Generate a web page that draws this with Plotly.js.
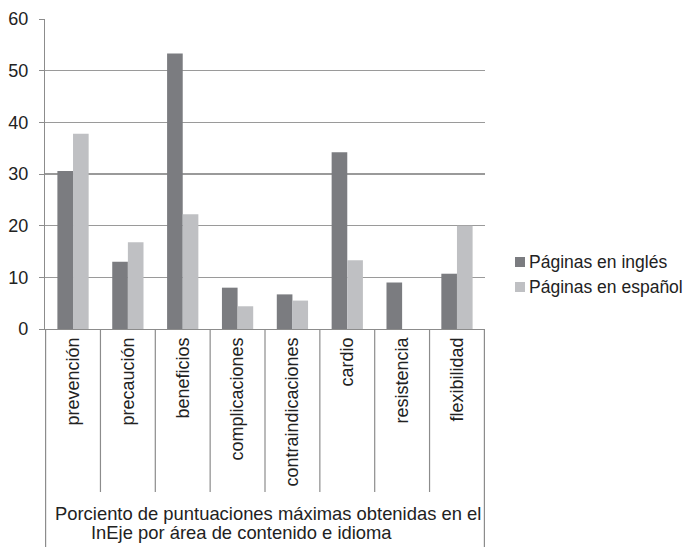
<!DOCTYPE html>
<html>
<head>
<meta charset="utf-8">
<script src="https://cdn.plot.ly/plotly-3.0.1.min.js"></script>
<style>html,body{margin:0;padding:0;background:#fff;}#chart{width:685px;height:547px;}</style>
</head>
<body>
<div id="chart"></div>
<script>
const categories = ["prevención","precaución","beneficios","complicaciones","contraindicaciones","cardio","resistencia","flexibilidad"];
const ingles = [30.6, 13.0, 53.3, 8.0, 6.7, 34.2, 9.0, 10.7];
const espanol = [37.8, 16.8, 22.2, 4.4, 5.5, 13.3, 0, 20.0];
const seriesNames = ["Páginas en inglés", "Páginas en español"];
const seriesColors = ["#7b7c80", "#bfc0c3"];
const titleLines = ["Porciento de puntuaciones máximas obtenidas en el", "InEje por área de contenido e idioma"];
const yTicks = [0, 10, 20, 30, 40, 50, 60];

const FONT = "Liberation Sans, Arial, sans-serif";
const L = 45, R = 200, T = 19, B = 218;
const plotW = 685 - L - R, plotH = 547 - T - B;
const px = v => (v - L) / plotW;          // page x -> paper
const py = v => (547 - B - v) / plotH;    // page y -> paper

const traces = [
  {type:'bar', name: seriesNames[0], x: categories, y: ingles, marker:{color: seriesColors[0]}, showlegend:false},
  {type:'bar', name: seriesNames[1], x: categories, y: espanol, marker:{color: seriesColors[1]}, showlegend:false}
];

const shapes = [];
for (let i = 0; i <= categories.length; i++) {
  const outer = (i === 0 || i === categories.length);
  shapes.push({type:'line', xref:'x', yref:'paper', x0: i - 0.5, x1: i - 0.5, y0: 0,
    y1: outer ? py(547) : py(492), line:{color:'#8c8c8c', width:1.2}});
}
const annotations = [
  {xref:'paper', yref:'paper', x: px(53), y: py(513), xanchor:'left', yanchor:'middle', showarrow:false,
   text: titleLines[0], font:{size:18.4, color:'#222'}},
  {xref:'paper', yref:'paper', x: px(89), y: py(532), xanchor:'left', yanchor:'middle', showarrow:false,
   text: titleLines[1], font:{size:18.4, color:'#222'}}
];
// legend (drawn as shapes + text)
const legendRows = [262, 287];
seriesNames.forEach((name, k) => {
  const cy = legendRows[k];
  shapes.push({type:'rect', xref:'paper', yref:'paper', x0: px(515), x1: px(525), y0: py(cy + 5), y1: py(cy - 5),
    fillcolor: seriesColors[k], line:{width:0}});
  annotations.push({xref:'paper', yref:'paper', x: px(527), y: py(cy), xanchor:'left', yanchor:'middle',
    showarrow:false, text: name, font:{size:17.5, color:'#222'}});
});

const layout = {
  width: 685, height: 547,
  margin: {l:L, r:R, t:T, b:B, autoexpand:false},
  paper_bgcolor:'#fff', plot_bgcolor:'#fff',
  font: {family: FONT, color:'#222', size: 18},
  barmode:'group', bargap: 0.43, bargroupgap: 0,
  showlegend: false,
  xaxis: {type:'category', tickangle:-90, showline:true, linecolor:'#8c8c8c', linewidth:1.2,
    ticks:'', showgrid:false, tickfont:{size:18, color:'#222'}, automargin:false},
  yaxis: {range:[0,60], tickvals: yTicks, showline:true, linecolor:'#8c8c8c', linewidth:1.2,
    ticks:'outside', ticklen:5, tickcolor:'#8c8c8c', showgrid:true, gridcolor:'#9a9a9a', gridwidth:1.2,
    zeroline:false, tickfont:{size:18, color:'#222'}, ticklabelstandoff: 7, automargin:false},
  shapes: shapes,
  annotations: annotations
};

Plotly.newPlot('chart', traces, layout, {displayModeBar:false, staticPlot:true});
</script>
</body>
</html>
